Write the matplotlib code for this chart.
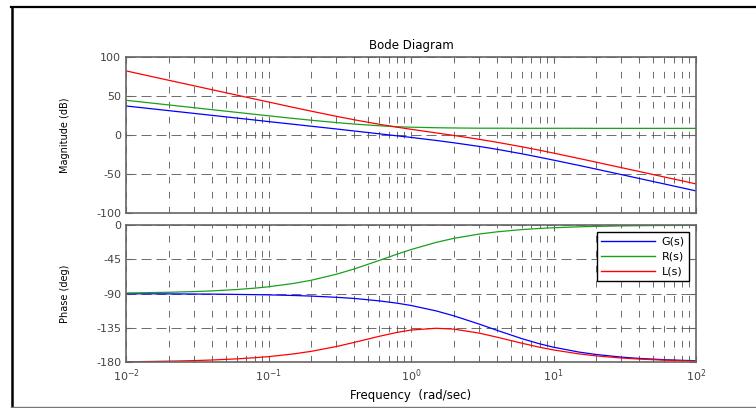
import numpy as np
import matplotlib
matplotlib.use('Agg')
import matplotlib.pyplot as plt
from matplotlib.lines import Line2D
from matplotlib.ticker import LogLocator, FixedLocator, NullFormatter, LogFormatterSciNotation

plt.rcParams['font.family'] = ['DejaVu Sans']
plt.rcParams['axes.unicode_minus'] = False

# frequency points (rad/sec)
freq = [0.01, 0.015, 0.02, 0.03, 0.04, 0.06, 0.08, 0.1, 0.15, 0.2, 0.3, 0.4, 0.6, 0.8,
        1, 1.5, 2, 3, 4, 6, 8, 10, 15, 20, 30, 40, 60, 80, 100]

mag_G = [37.6, 34.1, 31.6, 28.1, 25.6, 22.1, 19.6, 17.6, 14.1, 11.6, 8.1, 5.5, 1.9, -0.7,
         -2.7, -6.6, -9.6, -14.2, -17.9, -23.7, -28.2, -31.8, -38.5, -43.4, -50.4, -55.4,
         -62.4, -67.4, -71.3]
mag_R = [44.9, 41.4, 38.9, 35.4, 32.9, 29.4, 26.9, 25.0, 21.6, 19.3, 16.3, 14.4, 12.2, 11.0,
         10.4, 9.7, 9.4, 9.1, 9.1, 9.0, 9.0, 9.0, 9.0, 8.9, 8.9, 8.9, 8.9, 8.9, 8.9]
mag_L = [82.6, 75.5, 70.5, 63.5, 58.5, 51.5, 46.5, 42.7, 35.7, 30.9, 24.3, 19.9, 14.1, 10.4,
         7.7, 3.1, -0.2, -5.1, -8.9, -14.7, -19.2, -22.8, -29.6, -34.5, -41.5, -46.4,
         -53.5, -58.4, -62.3]

ph_G = [-90.2, -90.2, -90.3, -90.5, -90.6, -91.0, -91.3, -91.6, -92.4, -93.2, -94.8, -96.3,
        -99.5, -102.5, -105.5, -112.6, -119.1, -129.8, -138.0, -149.0, -155.8, -160.2,
        -166.5, -169.8, -173.2, -174.9, -176.6, -177.4, -177.9]
ph_R = [-89.1, -88.6, -88.2, -87.3, -86.4, -84.6, -82.8, -81.0, -76.6, -72.4, -64.5, -57.6,
        -46.4, -38.2, -32.2, -22.8, -17.5, -11.9, -9.0, -6.0, -4.5, -3.6, -2.4, -1.8, -1.2,
        -0.9, -0.6, -0.5, -0.4]
ph_L = [-179.3, -178.9, -178.5, -177.8, -177.0, -175.5, -174.0, -172.6, -169.0, -165.6,
        -159.3, -153.9, -145.9, -140.8, -137.7, -135.4, -136.5, -141.7, -147.0, -155.0,
        -160.3, -163.8, -168.9, -171.6, -174.4, -175.8, -177.2, -177.9, -178.3]

series = ['G(s)', 'R(s)', 'L(s)']
colors = ['#0000ff', '#1aa01a', '#ff0000']
mag_ticks = [-100, -50, 0, 50, 100]
ph_ticks = [-180, -135, -90, -45, 0]

W, H = 756, 408
fig = plt.figure(figsize=(W / 100, H / 100), dpi=100)

def box(l, t, r, b):
    return [l / W, 1 - b / H, (r - l) / W, (b - t) / H]

ax1 = fig.add_axes(box(126, 57.3, 696, 213.3))
ax2 = fig.add_axes(box(126, 225, 696, 362.3))

GRID = '#555555'
SPINE = '#666666'

def style(ax, yticks, ylim):
    ax.set_xscale('log')
    ax.set_xlim(0.01, 100)
    ax.set_ylim(*ylim)
    ax.yaxis.set_major_locator(FixedLocator(yticks))
    ax.xaxis.set_major_locator(LogLocator(base=10))
    ax.xaxis.set_minor_locator(LogLocator(base=10, subs=np.arange(2, 10)))
    ax.xaxis.set_minor_formatter(NullFormatter())
    ax.grid(True, which='both', axis='x', color=GRID, linewidth=0.6,
            linestyle=(0, (8, 10)))
    ax.grid(True, which='major', axis='y', color=GRID, linewidth=0.6,
            linestyle=(0, (12, 6)))
    ax.tick_params(which='both', direction='in', top=True, right=True,
                   color=SPINE, labelcolor='#444444', labelsize=8)
    ax.tick_params(which='major', length=4)
    ax.tick_params(which='minor', length=2)
    for s in ax.spines.values():
        s.set_color(SPINE)
        s.set_linewidth(1.2)
    ax.set_axisbelow(True)

style(ax1, mag_ticks, (-100, 100))
style(ax2, ph_ticks, (-180, 0))
ax1.set_xticklabels([])
ax2.xaxis.set_major_formatter(LogFormatterSciNotation())

for vals, c in zip([mag_G, mag_R, mag_L], colors):
    ax1.plot(freq, vals, color=c, linewidth=0.9)
for vals, c in zip([ph_G, ph_R, ph_L], colors):
    ax2.plot(freq, vals, color=c, linewidth=0.9)

ax1.set_title('Bode Diagram', fontsize=8.5, pad=6)
ax1.set_ylabel('Magnitude (dB)', fontsize=7)
ax2.set_ylabel('Phase (deg)', fontsize=7)
ax2.set_xlabel('Frequency  (rad/sec)', fontsize=8.5, labelpad=4)
ax1.yaxis.set_label_coords(-56 / 570, 0.5)
ax2.yaxis.set_label_coords(-56 / 570, 0.5)

handles = [Line2D([], [], color=c, linewidth=1.0) for c in colors]
leg = ax2.legend(handles, series, loc='upper right',
                 bbox_to_anchor=(689 / W, 1 - 232 / H), bbox_transform=fig.transFigure,
                 borderaxespad=0, fontsize=8, handlelength=4.8, fancybox=False,
                 framealpha=1, edgecolor='black', labelspacing=0.45,
                 borderpad=0.4, handletextpad=0.6)
leg.get_frame().set_linewidth(1.0)

# outer frame (screenshot border)
fig.add_artist(Line2D([11 / W, 1], [1 - 7 / H, 1 - 7 / H], color='black', linewidth=1.6,
                      transform=fig.transFigure))
fig.add_artist(Line2D([12 / W, 12 / W], [1 - 7 / H, 1 - 406 / H], color='black', linewidth=1.8,
                      transform=fig.transFigure))
fig.add_artist(Line2D([11 / W, 1], [1 - 406.5 / H, 1 - 406.5 / H], color='#777777', linewidth=1.0,
                      transform=fig.transFigure))

fig.savefig('out.png', dpi=100)
